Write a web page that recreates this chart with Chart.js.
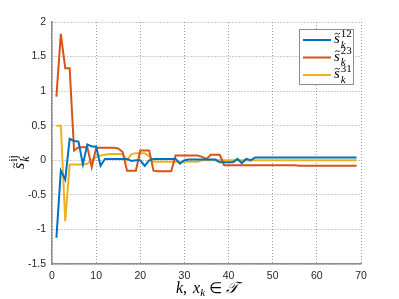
<!DOCTYPE html>
<html>
<head>
<meta charset="utf-8">
<script src="https://cdn.jsdelivr.net/npm/chart.js@4.4.0/dist/chart.umd.min.js"></script>
<style>
  html, body { margin: 0; padding: 0; background: #fff; }
  #wrap { width: 399px; height: 299px; }
</style>
</head>
<body>
<div id="wrap"><canvas id="myChart" width="399" height="299"></canvas></div>
<script>
// values, k = 1..69
const s12 = [-1.12, -0.15, -0.28, 0.31, 0.28, 0.27, -0.06, 0.23, 0.2, 0.2,
  -0.08, 0.02, 0.02, 0.02, 0.02, 0.02, 0.02, -0.01, 0.0, 0.0,
  -0.08, 0.0, 0.02, 0.02, 0.02, 0.02, 0.02, 0.02, -0.05, 0.0,
  0.01, 0.01, 0.01, 0.01, 0.01, 0.01, 0.01, -0.03, -0.03, -0.03,
  -0.03, 0.02, -0.04, 0.02, 0.0, 0.04, 0.04, 0.04, 0.04, 0.04,
  0.04, 0.04, 0.04, 0.04, 0.04, 0.04, 0.04, 0.04, 0.04, 0.04,
  0.04, 0.04, 0.04, 0.04, 0.04, 0.04, 0.04, 0.04, 0.04];

const s23 = [0.92, 1.83, 1.33, 1.33, 0.14, 0.19, 0.19, 0.19, -0.1, 0.18,
  0.18, 0.18, 0.18, 0.18, 0.17, 0.12, -0.15, -0.15, -0.15, 0.14,
  0.14, 0.14, -0.15, -0.16, -0.16, -0.16, -0.16, 0.07, 0.07, 0.07,
  0.07, 0.07, 0.07, 0.05, 0.02, 0.08, 0.08, 0.08, -0.07, -0.07,
  -0.07, -0.07, -0.07, -0.07, -0.07, -0.07, -0.07, -0.07, -0.07, -0.07,
  -0.07, -0.07, -0.07, -0.07, -0.07, -0.08, -0.08, -0.08, -0.08, -0.08,
  -0.08, -0.08, -0.08, -0.08, -0.08, -0.08, -0.08, -0.08, -0.08];

const s31 = [0.5, 0.5, -0.88, -0.06, -0.06, -0.06, -0.06, -0.05, 0.0, 0.05,
  0.07, 0.08, 0.09, 0.09, 0.09, 0.09, 0.0, 0.09, 0.1, 0.1,
  0.1, 0.06, -0.02, -0.02, -0.02, -0.02, -0.02, -0.02, -0.02, -0.02,
  -0.02, -0.02, -0.02, 0.0, 0.0, 0.0, 0.0, 0.0, 0.0, 0.0,
  0.0, 0.0, 0.0, 0.0, 0.0, 0.0, 0.0, 0.0, 0.0, 0.0,
  0.0, 0.0, 0.0, 0.0, 0.0, 0.0, 0.0, 0.0, 0.0, 0.0,
  0.0, 0.0, 0.0, 0.0, 0.0, 0.0, 0.0, 0.0, 0.0];

const kVals = s12.map((v, i) => i + 1);
const seriesNames = ['12', '23', '31'];
const seriesColors = ['#0072BD', '#D95319', '#EDB120'];

const toPoints = arr => arr.map((v, i) => ({ x: kVals[i], y: v }));

const ctx = document.getElementById('myChart');

const data = {
  datasets: [s12, s23, s31].map((arr, i) => ({
    label: seriesNames[i],
    data: toPoints(arr),
    borderColor: seriesColors[i],
    backgroundColor: seriesColors[i],
    borderWidth: 2,
    pointRadius: 0,
    tension: 0
  }))
};

// draws s~ with sub k and a superscript
function drawS(c, x, y, sup, size) {
  c.save();
  c.fillStyle = '#000';
  c.textBaseline = 'alphabetic';
  c.textAlign = 'left';
  c.font = 'italic ' + size + 'px "Liberation Serif", serif';
  c.fillText('s', x, y);
  const w = c.measureText('s').width;
  // small tilde over the s
  c.strokeStyle = '#000';
  c.lineWidth = 0.8;
  const tx = x + w / 2 + 0.5, ty = y - size * 0.62, tw = w * 0.45;
  c.beginPath();
  c.moveTo(tx - tw, ty + 0.8);
  c.quadraticCurveTo(tx - tw / 2, ty - 1.6, tx, ty);
  c.quadraticCurveTo(tx + tw / 2, ty + 1.6, tx + tw, ty - 0.8);
  c.stroke();
  const small = Math.round(size * 0.72);
  c.font = small + 'px "Liberation Serif", serif';
  c.fillText(sup, x + w + 1, y - size * 0.42);
  c.font = 'italic ' + small + 'px "Liberation Serif", serif';
  c.fillText('k', x + w + 1, y + size * 0.32);
  c.restore();
}

const annotations = {
  id: 'annotations',
  afterDraw(chart) {
    const c = chart.ctx;
    // legend box
    c.save();
    c.fillStyle = '#fff';
    c.strokeStyle = '#8c8c8c';
    c.lineWidth = 1;
    c.fillRect(299.5, 29.5, 54, 55);
    c.strokeRect(299.5, 29.5, 54, 55);
    const rows = [40, 57.5, 75];
    rows.forEach((ry, i) => {
      c.strokeStyle = seriesColors[i];
      c.lineWidth = 2;
      c.beginPath();
      c.moveTo(303, ry);
      c.lineTo(331, ry);
      c.stroke();
      drawS(c, 334, ry + 3, seriesNames[i], 15);
    });
    c.restore();

    // x axis title
    c.save();
    c.fillStyle = '#000';
    c.textBaseline = 'alphabetic';
    c.textAlign = 'left';
    let x = 176, y = 293;
    c.font = 'italic 16px "Liberation Serif", serif';
    c.fillText('k', x, y); x += c.measureText('k').width;
    c.font = '16px "Liberation Serif", serif';
    c.fillText(',', x, y); x += c.measureText(',').width + 6;
    c.font = 'italic 16px "Liberation Serif", serif';
    c.fillText('x', x, y); x += c.measureText('x').width;
    c.font = 'italic 11px "Liberation Serif", serif';
    c.fillText('k', x, y + 3); x += c.measureText('k').width + 4;
    c.font = '15px "DejaVu Sans", serif';
    c.fillText('\u2208', x, y); x += c.measureText('\u2208').width + 4;
    c.font = 'italic 16px "DejaVu Serif", serif';
    c.fillText('\uD835\uDCAF', x, y);
    c.restore();

    // y axis title, rotated
    c.save();
    c.translate(24, 160);
    c.rotate(-Math.PI / 2);
    drawS(c, -9, 0, 'ij', 16);
    c.restore();
  }
};

const config = {
  type: 'line',
  data,
  options: {
    responsive: false,
    animation: false,
    layout: { padding: { left: 0, right: 38, top: 22, bottom: 0 } },
    plugins: {
      legend: { display: false },
      tooltip: { enabled: false }
    },
    scales: {
      x: {
        type: 'linear',
        min: 0,
        max: 70,
        afterFit: s => { s.height = 35; },
        ticks: {
          stepSize: 10,
          color: '#262626',
          font: { family: '"Liberation Sans", Arial, sans-serif', size: 10.5 },
          padding: 6,
          maxRotation: 0,
          callback: v => String(v)
        },
        grid: { color: 'rgba(60,60,60,0.5)', drawTicks: false },
        border: { color: '#8c8c8c', width: 1.5, dash: [1, 2] }
      },
      y: {
        min: -1.5,
        max: 2,
        afterFit: s => { s.width = 52; },
        ticks: {
          stepSize: 0.5,
          color: '#262626',
          font: { family: '"Liberation Sans", Arial, sans-serif', size: 10.5 },
          padding: 6,
          callback: v => String(v)
        },
        grid: { color: 'rgba(60,60,60,0.5)', drawTicks: false },
        border: { color: '#8c8c8c', width: 1.5, dash: [1, 2] }
      }
    }
  },
  plugins: [annotations]
};

let myChart = new Chart(ctx, config);
</script>
</body>
</html>
